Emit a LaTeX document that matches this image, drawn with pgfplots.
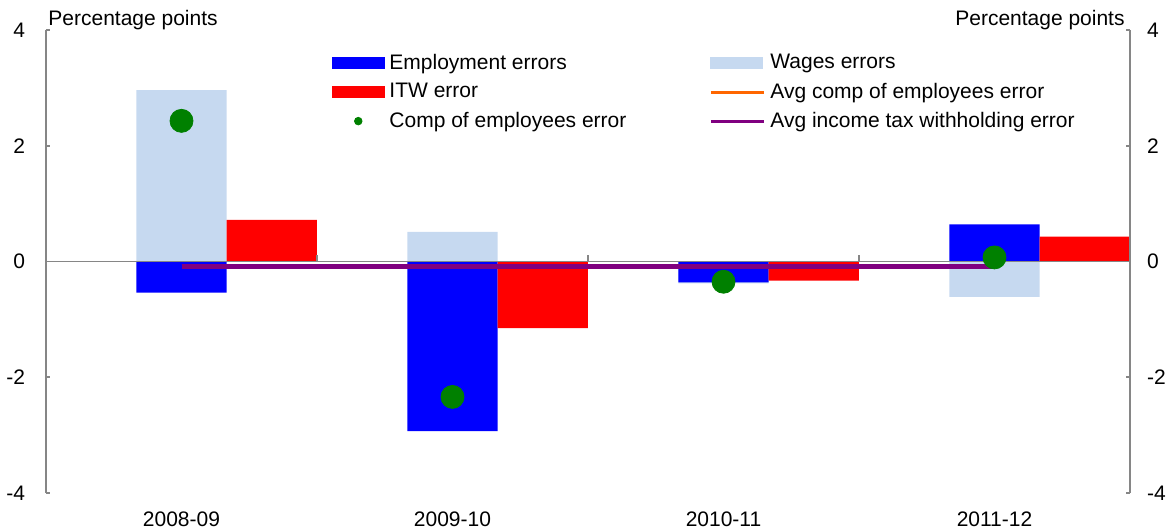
\documentclass[border=0pt]{standalone}
\usepackage{pgfplots}
\pgfplotsset{compat=1.18}
\usepackage{fontspec}
\setmainfont{Liberation Sans}
\definecolor{empblue}{RGB}{0,0,255}
\definecolor{wagesblue}{RGB}{198,217,240}
\definecolor{itwred}{RGB}{255,0,0}
\definecolor{compgreen}{RGB}{0,128,0}
\definecolor{avgorange}{RGB}{255,102,0}
\definecolor{avgpurple}{RGB}{128,0,128}
\definecolor{axgray}{RGB}{134,134,134}
\begin{document}
\begin{tikzpicture}[font=\fontsize{10.5pt}{12pt}\selectfont]
\begin{axis}[
  scale only axis, width=542pt, height=231.5pt,
  xmin=-0.5, xmax=3.5, ymin=-4, ymax=4,
  axis y line*=left, axis x line*=bottom,
  separate axis lines,
  x axis line style={draw=none},
  y axis line style={draw=axgray, line width=0.8pt, -},
  ytick={-4,-2,0,2,4}, yticklabels={-4,-2,0,2,4},
  tick align=inside, major tick length=2pt,
  ytick style={draw=axgray, line width=0.8pt},
  xtick={0,1,2,3}, xticklabels={2008-09,2009-10,2010-11,2011-12},
  xtick style={draw=none},
  yticklabel style={xshift=-7pt},
  xticklabel style={yshift=-6pt},
  legend columns=2,
  legend style={draw=none, fill=none, at={(rel axis cs:0.258,0.962)}, anchor=north west,
    nodes={inner sep=1pt}, row sep=3.4pt, cells={anchor=west},
    /tikz/every even column/.append style={column sep=40.5pt},
    /tikz/every odd column/.append style={column sep=1.5pt}},
]
\addlegendimage{legend image code/.code={\fill[empblue] (0pt,-2.7pt) rectangle (25.8pt,2.7pt);}}
\addlegendentry{Employment errors}
\addlegendimage{legend image code/.code={\fill[wagesblue] (0pt,-2.7pt) rectangle (25.8pt,2.7pt);}}
\addlegendentry{Wages errors}
\addlegendimage{legend image code/.code={\fill[itwred] (0pt,-2.7pt) rectangle (25.8pt,2.7pt);}}
\addlegendentry{ITW error}
\addlegendimage{legend image code/.code={\draw[avgorange, line width=1.5pt] (0pt,0pt) -- (26.5pt,0pt);}}
\addlegendentry{Avg comp of employees error}
\addlegendimage{legend image code/.code={\fill[compgreen] (12.9pt,0pt) circle (1.9pt);}}
\addlegendentry{Comp of employees error}
\addlegendimage{legend image code/.code={\draw[avgpurple, line width=1.5pt] (0pt,0pt) -- (26.5pt,0pt);}}
\addlegendentry{Avg income tax withholding error}

\addplot[ybar, bar width=0.3333, bar shift=0, fill=wagesblue, draw=none, forget plot]
  coordinates {(0,2.96) (1,0.51) (2,-0.38) (3,-0.61)};
\addplot[ybar, bar width=0.3333, bar shift=0, fill=empblue, draw=none, forget plot]
  coordinates {(0,-0.54) (1,-2.93) (2,-0.36) (3,0.64)};
\addplot[ybar, bar width=0.3333, bar shift=0, fill=itwred, draw=none, forget plot]
  coordinates {(0.3333,0.72) (1.3333,-1.15) (2.3333,-0.33) (3.3333,0.43)};
\draw[axgray, line width=0.9pt] (axis cs:-0.5,0) -- (axis cs:3.5,0);
\draw[axgray, line width=0.8pt] (axis cs:0.5,0) -- (axis cs:0.5,0.11);
\draw[axgray, line width=0.8pt] (axis cs:1.5,0) -- (axis cs:1.5,0.11);
\draw[axgray, line width=0.8pt] (axis cs:2.5,0) -- (axis cs:2.5,0.11);
\addplot[avgorange, line width=2.3pt, forget plot] coordinates {(0,-0.09) (3,-0.09)};
\addplot[avgpurple, line width=2.3pt, forget plot] coordinates {(0,-0.09) (3,-0.09)};
\addplot[only marks, mark=*, mark size=5.75pt, compgreen, forget plot]
  coordinates {(0,2.43) (1,-2.34) (2,-0.35) (3,0.07)};
\coordinate (SW) at (rel axis cs:0,0);
\coordinate (NE) at (rel axis cs:1,1);
\coordinate (NW) at (rel axis cs:0,1);
\end{axis}
\begin{axis}[
  scale only axis, width=542pt, height=231.5pt,
  xmin=-0.5, xmax=3.5, ymin=-4, ymax=4,
  axis y line*=right, hide x axis,
  y axis line style={draw=axgray, line width=0.8pt, -},
  ytick={-4,-2,0,2,4}, yticklabels={-4,-2,0,2,4},
  tick align=inside, major tick length=2pt,
  ytick style={draw=axgray, line width=0.8pt},
  yticklabel style={xshift=5pt},
]
\addplot[draw=none, forget plot] coordinates {(0,0)};
\end{axis}
\node[anchor=base west, inner sep=0] at ([xshift=1pt,yshift=2.2pt]NW) {Percentage points};
\node[anchor=base east, inner sep=0] at ([xshift=-2.5pt,yshift=2.2pt]NE) {Percentage points};
\pgfresetboundingbox
\path[use as bounding box] ([xshift=-23pt,yshift=-19pt]SW) rectangle ([xshift=21pt,yshift=15pt]NE);
\end{tikzpicture}
\end{document}
